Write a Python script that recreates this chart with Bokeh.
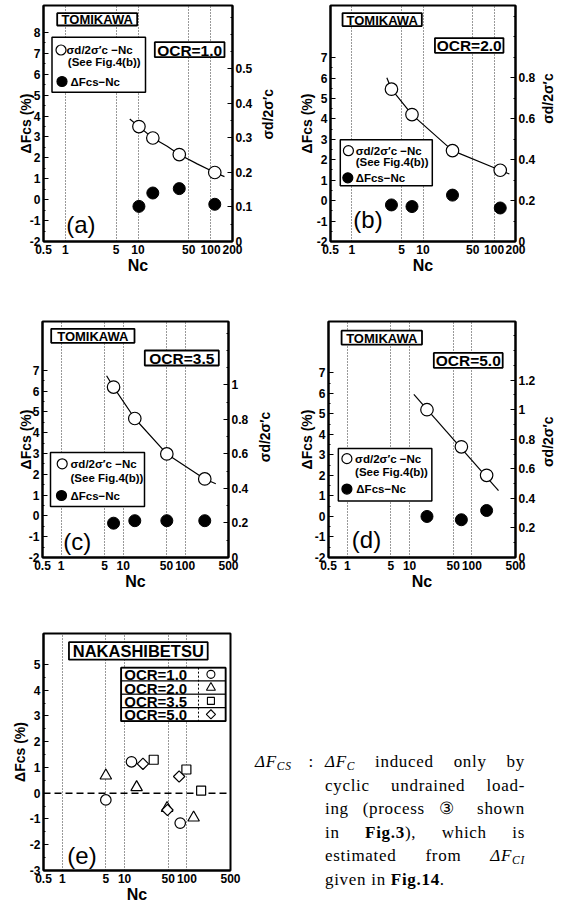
import math
from bokeh.plotting import figure
from bokeh.models import Range1d, LinearAxis, FixedTicker, BoxAnnotation, Label, Span, Div
from bokeh.layouts import row, column
from bokeh.embed import file_html
from bokeh.resources import INLINE

SANS = "Liberation Sans"
SERIF = "Liberation Serif"

# ---------------- data ----------------
# (a) TOMIKAWA OCR=1.0
A_NC = [10.3, 16.0, 37.0, 114.0]
A_SR = [0.333, 0.300, 0.252, 0.200]
A_DF = [-0.32, 0.32, 0.53, -0.22]
A_CURVE_NC = [7.7, 10.3, 16.0, 25.2, 37.0, 65.3, 114.0, 155.0]
A_CURVE_SR = [0.355, 0.333, 0.300, 0.276, 0.252, 0.225, 0.200, 0.188]
# (b) TOMIKAWA OCR=2.0
B_NC = [3.6, 7.0, 26.0, 122.0]
B_SR = [0.744, 0.620, 0.444, 0.348]
B_DF = [-0.21, -0.29, 0.27, -0.36]
B_CURVE_NC = [3.1, 3.6, 7.0, 26.0, 122.0, 164.0]
B_CURVE_SR = [0.800, 0.744, 0.620, 0.444, 0.348, 0.330]
# (c) TOMIKAWA OCR=3.5
C_NC = [7.0, 15.4, 50.6, 207.0]
C_SR = [0.987, 0.805, 0.600, 0.455]
C_DF = [-0.35, -0.23, -0.23, -0.23]
C_CURVE_NC = [5.4, 7.0, 15.4, 50.6, 207.0, 312.0]
C_CURVE_SR = [1.053, 0.987, 0.805, 0.600, 0.455, 0.427]
# (d) TOMIKAWA OCR=5.0
D_NC = [19.0, 67.7, 172.0]
D_SR = [1.000, 0.749, 0.556]
D_DF = [0.00, -0.16, 0.29]
D_LINE_NC = [11.7, 267.0]
D_LINE_SR = [1.104, 0.453]
# (e) NAKASHIBETSU
E1_NC = [5.0, 12.9, 78.0]
E1_DF = [-0.26, 1.22, -1.16]
E2_NC = [5.0, 15.6, 48.0, 128.0]
E2_DF = [0.68, 0.23, -0.58, -0.95]
E3_NC = [29.3, 98.0, 169.0]
E3_DF = [1.30, 0.92, 0.10]
E5_NC = [19.7, 48.7, 75.0]
E5_DF = [1.14, -0.65, 0.65]

# ---------------- ticks and texts ----------------
NC_TICKS_200 = [0.5, 1, 5, 10, 50, 100, 200]
NC_LABELS_200 = ["0.5", "1", "5", "10", "50", "100", "200"]
NC_TICKS_500 = [0.5, 1, 5, 10, 50, 100, 500]
NC_LABELS_500 = ["0.5", "1", "5", "10", "50", "100", "500"]
NC_GRID = [1, 5, 10, 50, 100]
DF_TICKS_A = [-2, -1, 0, 1, 2, 3, 4, 5, 6, 7, 8]
DF_LABELS_A = ["-2", "-1", "0", "1", "2", "3", "4", "5", "6", "7", "8"]
DF_TICKS_BCD = [-2, -1, 0, 1, 2, 3, 4, 5, 6, 7]
DF_LABELS_BCD = ["-2", "-1", "0", "1", "2", "3", "4", "5", "6", "7"]
DF_TICKS_E = [-3, -2, -1, 0, 1, 2, 3, 4, 5]
DF_LABELS_E = ["-3", "-2", "-1", "0", "1", "2", "3", "4", "5"]
SR_TICKS_A = [0.0, 0.1, 0.2, 0.3, 0.4, 0.5]
SR_LABELS_A = ["0", "0.1", "0.2", "0.3", "0.4", "0.5"]
SR_TICKS_B = [0.0, 0.2, 0.4, 0.6, 0.8]
SR_LABELS_B = ["0", "0.2", "0.4", "0.6", "0.8"]
SR_TICKS_C = [0.0, 0.2, 0.4, 0.6, 0.8, 1.0]
SR_LABELS_C = ["0", "0.2", "0.4", "0.6", "0.8", "1"]
SR_TICKS_D = [0.0, 0.2, 0.4, 0.6, 0.8, 1.0, 1.2]
SR_LABELS_D = ["0", "0.2", "0.4", "0.6", "0.8", "1", "1.2"]

SITE_T = "TOMIKAWA"
SITE_N = "NAKASHIBETSU"
OCR_TEXTS = ["OCR=1.0", "OCR=2.0", "OCR=3.5", "OCR=5.0"]
E_MARKERS = ["circle", "triangle", "square", "square"]
E_ANGLES = [0.0, 0.0, 0.0, math.pi / 4]
PANEL_TAGS = ["(a)", "(b)", "(c)", "(d)", "(e)"]
LEG1 = "σd/2σ′c −Nc"
LEG2 = "(See Fig.4(b))"
LEG3 = "ΔFcs−Nc"
Y_TITLE = "ΔFcs (%)"
R_TITLE = "σd/2σ′c"
X_TITLE = "Nc"


# ---------------- helpers ----------------
def fx(P, px):
    lx0, lx1 = math.log10(P["xr"][0]), math.log10(P["xr"][1])
    return 10 ** (lx0 + px / P["fw"] * (lx1 - lx0))


def fy(P, py):
    y0, y1 = P["yr"]
    return y1 - py / P["fh"] * (y1 - y0)


def style_axis(ax):
    ax.axis_line_color = "black"
    ax.axis_line_width = 2
    ax.major_tick_line_color = "black"
    ax.major_tick_line_width = 1.2
    ax.major_tick_in = 5
    ax.major_tick_out = 0
    ax.minor_tick_line_color = "black"
    ax.minor_tick_in = 2
    ax.minor_tick_out = 0
    ax.major_label_text_font = SANS
    ax.major_label_text_font_size = "12px"
    ax.major_label_text_font_style = "bold"
    ax.major_label_text_color = "black"
    ax.major_label_standoff = 3
    ax.axis_label_text_font = SANS
    ax.axis_label_text_font_style = "bold"
    ax.axis_label_text_color = "black"


def add_box(p, P, b, lw=1.8, fill=True):
    p.add_layout(BoxAnnotation(left=fx(P, b[0]), right=fx(P, b[2]),
                               top=fy(P, b[1]), bottom=fy(P, b[3]),
                               fill_color="white", fill_alpha=1.0 if fill else 0.0,
                               line_color="black", line_width=lw, line_alpha=1.0,
                               level="underlay"))


def add_text(p, P, px, py, text, size, style="bold", align="left", angle=0.0, font=SANS):
    p.add_layout(Label(x=fx(P, px), y=fy(P, py), text=text, text_font=font,
                       text_font_size=size, text_font_style=style, text_align=align,
                       text_baseline="middle", angle=angle, text_color="black"))


def add_mark(p, P, px, py, marker, size, fill, angle=0.0, lw=1.2):
    p.scatter(x=[fx(P, px)], y=[fy(P, py)], marker=marker, size=size, angle=angle,
              fill_color=fill, line_color="black", line_width=lw)


def make_panel(P, xt, xl, yt, yl):
    P["fw"] = P["w"] - P["bl"] - P["br"]
    p = figure(width=P["w"], height=P["h"], x_axis_type="log",
               x_range=Range1d(*P["xr"]), y_range=Range1d(*P["yr"]),
               min_border_left=P["bl"], min_border_right=P["br"],
               min_border_top=P["bt"], min_border_bottom=P["h"] - P["bt"] - P["fh"],
               output_backend="svg", toolbar_location=None)
    p.background_fill_color = "white"
    p.border_fill_color = "white"
    p.outline_line_color = "black"
    p.outline_line_width = 2
    p.ygrid.visible = False
    p.xgrid.ticker = FixedTicker(ticks=NC_GRID)
    p.xgrid.grid_line_color = "#333333"
    p.xgrid.grid_line_dash = "1 2"
    p.xgrid.grid_line_width = 1
    xa = p.xaxis[0]
    style_axis(xa)
    xa.ticker = FixedTicker(ticks=xt)
    xa.major_label_overrides = dict(zip(xt, xl))
    xa.major_tick_in = 0
    xa.axis_label = X_TITLE
    xa.axis_label_text_font_size = "16px"
    xa.axis_label_standoff = 0
    ya = p.yaxis[0]
    style_axis(ya)
    ya.ticker = FixedTicker(ticks=yt, minor_ticks=[t + 0.5 for t in yt[:-1]])
    ya.major_label_overrides = dict(zip(yt, yl))
    ya.axis_label = Y_TITLE
    ya.axis_label_text_font_size = "14px"
    ya.axis_label_standoff = P["ys"]
    return p


def add_right(p, P, ticks, labels, step):
    p.extra_y_ranges = {"r": Range1d(*P["rr"])}
    minors = []
    v = step
    while v < P["rr"][1]:
        minors.append(round(v, 4))
        v += step
    ra = LinearAxis(y_range_name="r", ticker=FixedTicker(ticks=ticks, minor_ticks=minors))
    style_axis(ra)
    ra.major_label_overrides = dict(zip(ticks, labels))
    p.add_layout(ra, "right")
    # title of the right axis, written bottom-to-top as in the original
    tpos = P["rr"][1] * (1.0 - P["rty"] / P["fh"])
    ta = LinearAxis(y_range_name="r", ticker=FixedTicker(ticks=[tpos], minor_ticks=[]))
    ta.major_label_overrides = {tpos: R_TITLE}
    ta.major_label_orientation = math.pi / 2
    ta.major_label_standoff = P["rs"]
    ta.major_label_text_font = SANS
    ta.major_label_text_font_size = "14px"
    ta.major_label_text_font_style = "bold"
    ta.major_label_text_color = "black"
    ta.axis_line_alpha = 0
    ta.major_tick_line_alpha = 0
    ta.minor_tick_line_alpha = 0
    ta.major_tick_in = 0
    ta.major_tick_out = 0
    p.add_layout(ta, "right")


def tomikawa_decor(p, P, L, ocr, tag):
    add_box(p, P, L["tbox"])
    add_text(p, P, (L["tbox"][0] + L["tbox"][2]) / 2, (L["tbox"][1] + L["tbox"][3]) / 2 + 0.5,
             SITE_T, "13px", align="center")
    add_box(p, P, L["obox"])
    add_text(p, P, (L["obox"][0] + L["obox"][2]) / 2, (L["obox"][1] + L["obox"][3]) / 2 + 0.5,
             ocr, "15.5px", align="center")
    add_box(p, P, L["lbox"], lw=1.5)
    add_mark(p, P, L["open"][0], L["open"][1], "circle", 10, "white")
    add_text(p, P, L["t1"][0], L["t1"][1], LEG1, "11.5px")
    add_text(p, P, L["t2"][0], L["t2"][1], LEG2, "11.5px")
    add_mark(p, P, L["fill"][0], L["fill"][1], "circle", 10, "black")
    add_text(p, P, L["t3"][0], L["t3"][1], LEG3, "11.5px")
    add_text(p, P, L["tag"][0], L["tag"][1], tag, "24px", style="normal")


def draw_series(p, cx, cy, nx, sr, df):
    p.line(cx, cy, y_range_name="r", line_color="black", line_width=1.2)
    p.scatter(nx, sr, y_range_name="r", marker="circle", size=12.5, fill_color="white",
              line_color="black", line_width=1.2)
    p.scatter(nx, df, marker="circle", size=12, fill_color="black", line_color="black")


# ---------------- panel (a) ----------------
PA = dict(w=280, h=296, bl=35, br=56, bt=1, fh=236, xr=(0.5, 200.0), yr=(-2.0, 9.29),
          rr=(0.0, 0.684), ys=-7, rs=12, rty=134.0)
pa = make_panel(PA, NC_TICKS_200, NC_LABELS_200, DF_TICKS_A, DF_LABELS_A)
add_right(pa, PA, SR_TICKS_A, SR_LABELS_A, 0.05)
tomikawa_decor(pa, PA, dict(tbox=(13.7, 7.7, 93.7, 20.0), obox=(111.3, 36.7, 181.0, 51.7),
                            lbox=(8.5, 31.7, 102.0, 86.7), open=(17.5, 44.5), t1=(23.0, 44.5),
                            t2=(24.3, 56.7), fill=(18.5, 76.0), t3=(27.0, 76.0), tag=(22.7, 219.0)),
               OCR_TEXTS[0], PANEL_TAGS[0])
draw_series(pa, A_CURVE_NC, A_CURVE_SR, A_NC, A_SR, A_DF)

# ---------------- panel (b) ----------------
PB = dict(w=279, h=296, bl=42, br=48, bt=1, fh=241, xr=(0.5, 200.0), yr=(-2.0, 9.55),
          rr=(0.0, 1.153), ys=-1, rs=10, rty=120.8)
pb = make_panel(PB, NC_TICKS_200, NC_LABELS_200, DF_TICKS_BCD, DF_LABELS_BCD)
add_right(pb, PB, SR_TICKS_B, SR_LABELS_B, 0.1)
tomikawa_decor(pb, PB, dict(tbox=(12.3, 7.7, 93.3, 21.0), obox=(106.7, 33.3, 176.7, 48.3),
                            lbox=(10.0, 137.0, 104.0, 184.0), open=(18.3, 148.3), t1=(25.7, 148.3),
                            t2=(25.7, 160.0), fill=(17.7, 176.0), t3=(25.7, 176.0), tag=(23.3, 219.0)),
               OCR_TEXTS[1], PANEL_TAGS[1])
draw_series(pb, B_CURVE_NC, B_CURVE_SR, B_NC, B_SR, B_DF)

# ---------------- panel (c) ----------------
PC = dict(w=280, h=300, bl=34, br=60, bt=21, fh=236, xr=(0.5, 500.0), yr=(-2.0, 9.35),
          rr=(0.0, 1.367), ys=-8, rs=14, rty=140.7)
pc = make_panel(PC, NC_TICKS_500, NC_LABELS_500, DF_TICKS_BCD, DF_LABELS_BCD)
add_right(pc, PC, SR_TICKS_C, SR_LABELS_C, 0.1)
tomikawa_decor(pc, PC, dict(tbox=(8.7, 7.3, 92.0, 21.3), obox=(102.3, 29.0, 176.3, 44.0),
                            lbox=(8.0, 131.0, 102.0, 185.0), open=(19.7, 142.3), t1=(28.0, 142.3),
                            t2=(28.0, 156.7), fill=(19.0, 174.0), t3=(28.0, 174.0), tag=(20.7, 219.8)),
               OCR_TEXTS[2], PANEL_TAGS[2])
draw_series(pc, C_CURVE_NC, C_CURVE_SR, C_NC, C_SR, C_DF)

# ---------------- panel (d) ----------------
PD = dict(w=279, h=300, bl=40, br=49, bt=20, fh=238, xr=(0.5, 500.0), yr=(-2.0, 9.50),
          rr=(0.0, 1.597), ys=-3, rs=10, rty=146.7)
pd_ = make_panel(PD, NC_TICKS_500, NC_LABELS_500, DF_TICKS_BCD, DF_LABELS_BCD)
add_right(pd_, PD, SR_TICKS_D, SR_LABELS_D, 0.1)
tomikawa_decor(pd_, PD, dict(tbox=(13.3, 9.3, 95.0, 23.3), obox=(107.0, 31.7, 177.0, 46.7),
                             lbox=(10.0, 128.0, 105.0, 181.0), open=(18.7, 138.3), t1=(27.0, 138.3),
                             t2=(27.0, 151.7), fill=(18.7, 169.0), t3=(28.3, 169.0), tag=(23.7, 220.0)),
               OCR_TEXTS[3], PANEL_TAGS[3])
draw_series(pd_, D_LINE_NC, D_LINE_SR, D_NC, D_SR, D_DF)

# ---------------- panel (e) ----------------
PE = dict(w=237, h=305, bl=31, br=15, bt=33, fh=238, xr=(0.5, 500.0), yr=(-3.0, 6.2), ys=-1)
pe = make_panel(PE, NC_TICKS_500, NC_LABELS_500, DF_TICKS_E, DF_LABELS_E)
pe.add_layout(Span(location=0, dimension="width", line_color="black", line_width=1.5,
                   line_dash="7 4", level="underlay"))
add_box(pe, PE, (26.0, 8.7, 167.7, 26.3))
add_text(pe, PE, 96.85, 18.0, SITE_N, "16.5px", align="center")
ROW_Y = [34.3, 47.7, 61.0, 74.4, 88.0]
for i in range(4):
    add_box(pe, PE, (79.3, ROW_Y[i], 186.0, ROW_Y[i + 1]), lw=1.2)
add_box(pe, PE, (79.3, ROW_Y[0], 186.0, ROW_Y[4]), lw=1.8, fill=False)
pe.segment(x0=[fx(PE, 158.3)], y0=[fy(PE, ROW_Y[0])], x1=[fx(PE, 158.3)], y1=[fy(PE, ROW_Y[4])],
           line_color="black", line_width=1, line_dash="2 2", level="overlay")
E_LEG_SIZES = [8, 9, 7, 6.5]
for i in range(4):
    yc = (ROW_Y[i] + ROW_Y[i + 1]) / 2
    add_text(pe, PE, 82.5, yc + 0.5, OCR_TEXTS[i], "15px")
    add_mark(pe, PE, 171.0, yc, E_MARKERS[i], E_LEG_SIZES[i], "white", angle=E_ANGLES[i], lw=1.1)
add_text(pe, PE, 24.3, 222.8, PANEL_TAGS[4], "24px", style="normal")
E_SERIES = [(E1_NC, E1_DF, 10.5), (E2_NC, E2_DF, 11.5), (E3_NC, E3_DF, 9.0), (E5_NC, E5_DF, 8.0)]
for i, (nx, df, sz) in enumerate(E_SERIES):
    pe.scatter(nx, df, marker=E_MARKERS[i], size=sz, angle=E_ANGLES[i], fill_color="white",
               line_color="black", line_width=1.2)

# ---------------- note text ----------------
SUB = '<span style="font-size:11.5px;vertical-align:-3px;line-height:0;">'
NOTE_HEAD = "<i>ΔF" + SUB + "CS</span></i>"
NOTE_LINES = [
    "<i>ΔF" + SUB + "C</span></i> induced only by",
    "cyclic undrained load-",
    "ing (process ③ shown",
    "in <b>Fig.3</b>), which is",
    "estimated from <i>ΔF" + SUB + "CI</span></i>",
    "given in <b>Fig.14</b>.",
]
line_divs = ""
for i, t in enumerate(NOTE_LINES):
    al = "justify" if i < len(NOTE_LINES) - 1 else "left"
    line_divs += f'<div style="text-align:{al};text-align-last:{al};height:23.6px;white-space:normal;">{t}</div>'
note_html = (
    f'<div style="font-family:\'{SERIF}\',serif;font-size:17px;line-height:23.6px;color:#000;'
    f'letter-spacing:0.7px;margin-top:145px;margin-left:5px;display:flex;">'
    f'<div style="width:70px;flex:none;display:flex;justify-content:space-between;'
    f'padding-right:11px;box-sizing:border-box;"><span>{NOTE_HEAD}</span><span>:</span></div>'
    f'<div style="width:200px;flex:none;">{line_divs}</div></div>'
)
note = Div(text=note_html, width=322, height=305)

layout = column(row(pa, pb), row(pc, pd_), row(pe, note), margin=(4, 0, 0, 8))

open("out.html", "w").write(file_html(layout, INLINE, title="Fig"))
